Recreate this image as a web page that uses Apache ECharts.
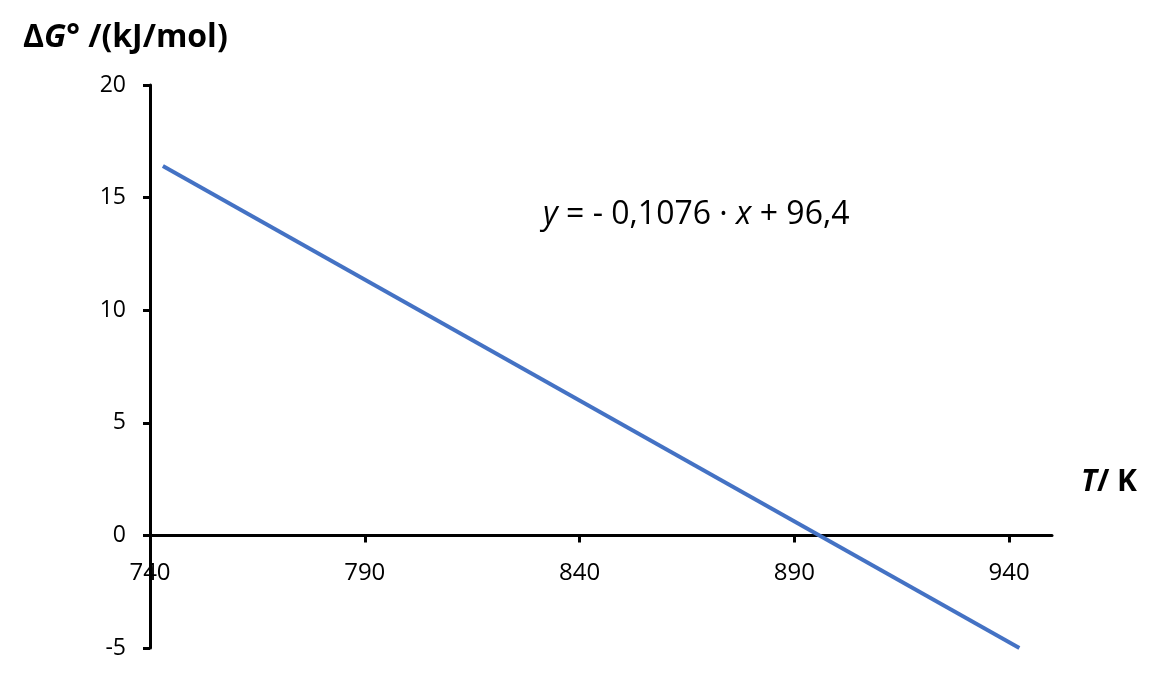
<!DOCTYPE html>
<html>
<head>
<meta charset="utf-8">
<script src="https://cdn.jsdelivr.net/npm/echarts@6/dist/echarts.min.js"></script>
<style>html,body{margin:0;padding:0;background:#fff}#c{width:1165px;height:682px}</style>
</head>
<body>
<div id="c"></div>
<script>
var temperatures = [743, 942.4];
var deltaG = [16.4, -5];
var xTickValues = [740, 790, 840, 890, 940];
var yTickInterval = 5;

var chart = echarts.init(document.getElementById('c'));
var FONT = 'Open Sans';
chart.setOption({
  animation: false,
  backgroundColor: '#fff',
  grid: {left: 150, right: 113, top: 85, bottom: 34, outerBoundsMode: 'none', containLabel: false},
  title: {
    text: '{b|Δ}{bi|G}{b|° /(kJ/mol)}',
    left: 18, top: 17,
    textStyle: {
      rich: {
        b: {fontFamily: FONT, fontWeight: 'bold', fontSize: 32, color: '#000'},
        bi: {fontFamily: FONT, fontWeight: 'bold', fontStyle: 'italic', fontSize: 32, color: '#000'}
      }
    }
  },
  graphic: [
    {
      type: 'text', left: 1081, top: 467,
      style: {
        text: '{bi|T}{b|/ K}',
        rich: {
          b: {fontFamily: FONT, fontWeight: 'bold', fontSize: 30, fill: '#000'},
          bi: {fontFamily: FONT, fontWeight: 'bold', fontStyle: 'italic', fontSize: 30, fill: '#000'}
        }
      }
    },
    {
      type: 'text', left: 543, top: 199,
      style: {
        text: '{i|y}{n| = - 0,1076 · }{i|x}{n| + 96,4}',
        rich: {
          n: {fontFamily: FONT, fontSize: 32, fill: '#000'},
          i: {fontFamily: FONT, fontStyle: 'italic', fontSize: 32, fill: '#000'}
        }
      }
    }
  ],
  xAxis: {
    type: 'value', min: 740, max: 950,
    axisLine: {onZero: true, lineStyle: {color: '#000', width: 3}},
    axisTick: {show: true, length: 7, lineStyle: {color: '#000', width: 3}, customValues: xTickValues},
    axisLabel: {customValues: xTickValues, margin: -87, fontFamily: FONT, fontSize: 24, color: '#000'},
    splitLine: {show: false}
  },
  yAxis: {
    type: 'value', min: -5, max: 20, interval: yTickInterval,
    axisLine: {show: true, lineStyle: {color: '#000', width: 3}},
    axisTick: {show: true, length: 7, lineStyle: {color: '#000', width: 3}},
    axisLabel: {margin: 24, fontFamily: FONT, fontSize: 23, color: '#000'},
    splitLine: {show: false}
  },
  series: [{
    type: 'line',
    data: temperatures.map(function (t, i) { return [t, deltaG[i]]; }),
    showSymbol: false,
    lineStyle: {color: '#4472C4', width: 4},
    z: 5
  }]
});
</script>
</body>
</html>
